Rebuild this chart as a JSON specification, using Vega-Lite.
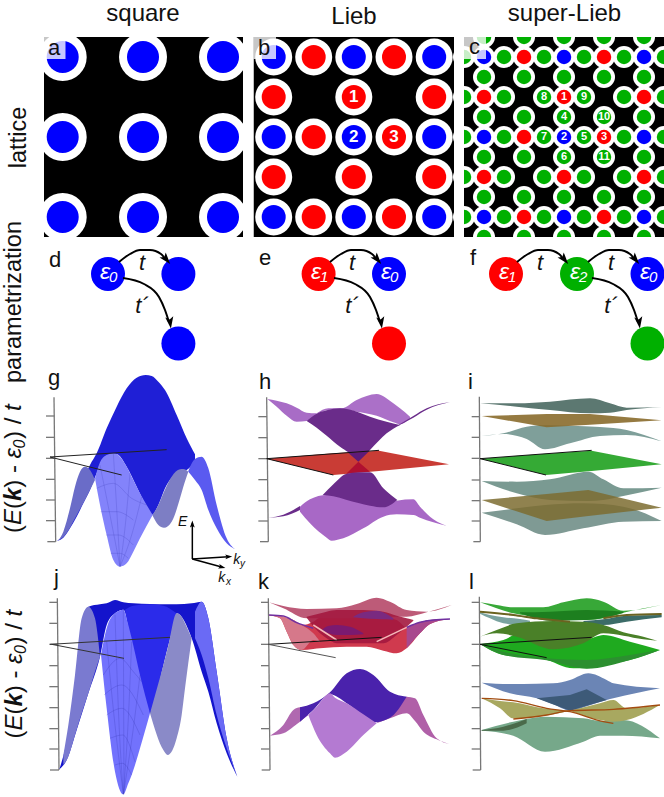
{"$schema":"https://vega.github.io/schema/vega-lite/v6.json","width":664,"height":797,"padding":0,"autosize":{"type":"none"},"background":"white","config":{"view":{"stroke":null},"text":{"font":"Liberation Sans"}},
"datasets":{
"a":[{"x":62.7,"y":57,"s":"e0"},{"x":143,"y":57,"s":"e0"},{"x":223,"y":57,"s":"e0"},{"x":62.7,"y":137,"s":"e0"},{"x":143,"y":137,"s":"e0"},{"x":223,"y":137,"s":"e0"},{"x":62.7,"y":217,"s":"e0"},{"x":143,"y":217,"s":"e0"},{"x":223,"y":217,"s":"e0"}],
"b":[{"x":273.7,"y":57,"s":"e0"},{"x":313.7,"y":57,"s":"e1"},{"x":353.8,"y":57,"s":"e0"},{"x":394,"y":57,"s":"e1"},{"x":434.2,"y":57,"s":"e0"},{"x":273.7,"y":97,"s":"e1"},{"x":353.8,"y":97,"s":"e1"},{"x":434.2,"y":97,"s":"e1"},{"x":273.7,"y":137,"s":"e0"},{"x":313.7,"y":137,"s":"e1"},{"x":353.8,"y":137,"s":"e0"},{"x":394,"y":137,"s":"e1"},{"x":434.2,"y":137,"s":"e0"},{"x":273.7,"y":177,"s":"e1"},{"x":353.8,"y":177,"s":"e1"},{"x":434.2,"y":177,"s":"e1"},{"x":273.7,"y":217,"s":"e0"},{"x":313.7,"y":217,"s":"e1"},{"x":353.8,"y":217,"s":"e0"},{"x":394,"y":217,"s":"e1"},{"x":434.2,"y":217,"s":"e0"}],
"c":[{"x":484,"y":37,"s":"e2"},{"x":524,"y":37,"s":"e2"},{"x":564,"y":37,"s":"e2"},{"x":604,"y":37,"s":"e2"},{"x":644,"y":37,"s":"e2"},
{"x":464,"y":57,"s":"e2"},{"x":484,"y":57,"s":"e0"},{"x":504,"y":57,"s":"e2"},{"x":524,"y":57,"s":"e1"},{"x":544,"y":57,"s":"e2"},{"x":564,"y":57,"s":"e0"},{"x":584,"y":57,"s":"e2"},{"x":604,"y":57,"s":"e1"},{"x":624,"y":57,"s":"e2"},{"x":644,"y":57,"s":"e0"},{"x":664,"y":57,"s":"e2"},
{"x":484,"y":77,"s":"e2"},{"x":524,"y":77,"s":"e2"},{"x":564,"y":77,"s":"e2"},{"x":604,"y":77,"s":"e2"},{"x":644,"y":77,"s":"e2"},
{"x":464,"y":97,"s":"e2"},{"x":484,"y":97,"s":"e1"},{"x":504,"y":97,"s":"e2"},{"x":544,"y":97,"s":"e2"},{"x":564,"y":97,"s":"e1"},{"x":584,"y":97,"s":"e2"},{"x":624,"y":97,"s":"e2"},{"x":644,"y":97,"s":"e1"},{"x":664,"y":97,"s":"e2"},
{"x":484,"y":117,"s":"e2"},{"x":524,"y":117,"s":"e2"},{"x":564,"y":117,"s":"e2"},{"x":604,"y":117,"s":"e2"},{"x":644,"y":117,"s":"e2"},
{"x":464,"y":137,"s":"e2"},{"x":484,"y":137,"s":"e0"},{"x":504,"y":137,"s":"e2"},{"x":524,"y":137,"s":"e1"},{"x":544,"y":137,"s":"e2"},{"x":564,"y":137,"s":"e0"},{"x":584,"y":137,"s":"e2"},{"x":604,"y":137,"s":"e1"},{"x":624,"y":137,"s":"e2"},{"x":644,"y":137,"s":"e0"},{"x":664,"y":137,"s":"e2"},
{"x":484,"y":157,"s":"e2"},{"x":524,"y":157,"s":"e2"},{"x":564,"y":157,"s":"e2"},{"x":604,"y":157,"s":"e2"},{"x":644,"y":157,"s":"e2"},
{"x":464,"y":177,"s":"e2"},{"x":484,"y":177,"s":"e1"},{"x":504,"y":177,"s":"e2"},{"x":544,"y":177,"s":"e2"},{"x":564,"y":177,"s":"e1"},{"x":584,"y":177,"s":"e2"},{"x":624,"y":177,"s":"e2"},{"x":644,"y":177,"s":"e1"},{"x":664,"y":177,"s":"e2"},
{"x":484,"y":197,"s":"e2"},{"x":524,"y":197,"s":"e2"},{"x":564,"y":197,"s":"e2"},{"x":604,"y":197,"s":"e2"},{"x":644,"y":197,"s":"e2"},
{"x":464,"y":217,"s":"e2"},{"x":484,"y":217,"s":"e0"},{"x":504,"y":217,"s":"e2"},{"x":524,"y":217,"s":"e1"},{"x":544,"y":217,"s":"e2"},{"x":564,"y":217,"s":"e0"},{"x":584,"y":217,"s":"e2"},{"x":604,"y":217,"s":"e1"},{"x":624,"y":217,"s":"e2"},{"x":644,"y":217,"s":"e0"},{"x":664,"y":217,"s":"e2"},
{"x":484,"y":237,"s":"e2"},{"x":524,"y":237,"s":"e2"},{"x":564,"y":237,"s":"e2"},{"x":604,"y":237,"s":"e2"},{"x":644,"y":237,"s":"e2"}],
"axisTop":[{"x":50,"y":97,"x2":55,"y2":530},{"x":25,"y":155,"x2":51,"y2":155},{"x":25,"y":218,"x2":52,"y2":218},{"x":25,"y":281,"x2":52,"y2":281},{"x":25,"y":344,"x2":53,"y2":344},{"x":25,"y":407,"x2":54,"y2":407},{"x":25,"y":468,"x2":54,"y2":468},{"x":30,"y":530,"x2":55,"y2":530},
{"x":688,"y":95,"x2":691,"y2":530},{"x":665,"y":155,"x2":689,"y2":155},{"x":665,"y":217,"x2":689,"y2":217},{"x":665,"y":280,"x2":689,"y2":280},{"x":665,"y":345,"x2":690,"y2":345},{"x":665,"y":407,"x2":690,"y2":407},{"x":665,"y":468,"x2":690,"y2":468},{"x":670,"y":530,"x2":691,"y2":530}],
"axisBot":[{"x":55,"y":70,"x2":60,"y2":585},{"x":33,"y":82,"x2":56,"y2":82},{"x":33,"y":145,"x2":56,"y2":145},{"x":33,"y":208,"x2":57,"y2":208},{"x":33,"y":272,"x2":57,"y2":272},{"x":33,"y":335,"x2":58,"y2":335},{"x":33,"y":398,"x2":58,"y2":398},{"x":33,"y":461,"x2":59,"y2":461},{"x":33,"y":522,"x2":59,"y2":522},{"x":35,"y":585,"x2":60,"y2":585},
{"x":688,"y":65,"x2":692,"y2":585},{"x":665,"y":82,"x2":689,"y2":82},{"x":665,"y":145,"x2":689,"y2":145},{"x":665,"y":208,"x2":690,"y2":208},{"x":665,"y":272,"x2":690,"y2":272},{"x":665,"y":335,"x2":690,"y2":335},{"x":665,"y":398,"x2":691,"y2":398},{"x":665,"y":461,"x2":691,"y2":461},{"x":665,"y":522,"x2":691,"y2":522},{"x":668,"y":585,"x2":692,"y2":585}]
},
"resolve":{"scale":{"x":"independent","y":"independent"}},
"layer":[
{"encoding":{"x":{"field":"x","type":"quantitative","axis":null,"scale":{"domain":[0,664],"range":[0,664]}},"y":{"field":"y","type":"quantitative","axis":null,"scale":{"domain":[0,797],"range":[0,797]}}},
"layer":[
{"data":{"values":[{"x":44,"x2":243,"y":37,"y2":237},{"x":253.5,"x2":454,"y":37,"y2":237},{"x":464,"x2":664,"y":37,"y2":237}]},"mark":{"type":"rect","color":"black"},"encoding":{"x2":{"field":"x2"},"y2":{"field":"y2"}}},
{"data":{"name":"a"},"mark":{"type":"point","filled":true,"shape":"circle","color":"white","opacity":1,"size":2304}},
{"data":{"name":"a"},"mark":{"type":"point","filled":true,"shape":"circle","opacity":1,"size":1024},"encoding":{"color":{"field":"s","type":"nominal","legend":null,"scale":{"domain":["e0","e1","e2"],"range":["#0000ff","#ff0000","#00b000"]}}}},
{"data":{"name":"b"},"mark":{"type":"point","filled":true,"shape":"circle","color":"white","opacity":1,"size":1369}},
{"data":{"name":"b"},"mark":{"type":"point","filled":true,"shape":"circle","opacity":1,"size":576},"encoding":{"color":{"field":"s","type":"nominal","legend":null,"scale":{"domain":["e0","e1","e2"],"range":["#0000ff","#ff0000","#00b000"]}}}},
{"data":{"name":"c"},"mark":{"type":"point","filled":true,"shape":"circle","color":"white","opacity":1,"size":484}},
{"data":{"name":"c"},"mark":{"type":"point","filled":true,"shape":"circle","opacity":1,"size":210},"encoding":{"color":{"field":"s","type":"nominal","legend":null,"scale":{"domain":["e0","e1","e2"],"range":["#0000ff","#ff0000","#00b000"]}}}},
{"data":{"values":[{"x":30,"x2":664,"y":25,"y2":37},{"x":30,"x2":664,"y":237,"y2":250},{"x":30,"x2":44,"y":25,"y2":250},{"x":243,"x2":253.5,"y":25,"y2":250},{"x":454,"x2":464,"y":25,"y2":250}]},"mark":{"type":"rect","color":"white"},"encoding":{"x2":{"field":"x2"},"y2":{"field":"y2"}}},
{"data":{"values":[{"x":44,"x2":65.5,"y":37,"y2":59},{"x":253.5,"x2":276,"y":37,"y2":59},{"x":464,"x2":486,"y":37,"y2":59}]},"mark":{"type":"rect","color":"white","opacity":0.78},"encoding":{"x2":{"field":"x2"},"y2":{"field":"y2"}}},
{"data":{"values":[{"x":108,"y":274,"s":"e0"},{"x":178.4,"y":274,"s":"e0"},{"x":178.4,"y":343.5,"s":"e0"},{"x":318.6,"y":274,"s":"e1"},{"x":389,"y":274,"s":"e0"},{"x":389,"y":343.5,"s":"e1"},{"x":506,"y":274,"s":"e1"},{"x":577,"y":274,"s":"e2"},{"x":647.5,"y":274,"s":"e0"},{"x":647.5,"y":343.5,"s":"e2"}]},"mark":{"type":"point","filled":true,"shape":"circle","opacity":1,"size":1156},"encoding":{"color":{"field":"s","type":"nominal","legend":null,"scale":{"domain":["e0","e1","e2"],"range":["#0000ff","#ff0000","#00b000"]}}}},
{"data":{"values":[
{"id":"d1","x":119,"y":262},{"id":"d1","x":130,"y":254},{"id":"d1","x":140,"y":250},{"id":"d1","x":150,"y":250},{"id":"d1","x":161,"y":254},{"id":"d1","x":166,"y":260},
{"id":"d2","x":123,"y":278},{"id":"d2","x":144,"y":284},{"id":"d2","x":159,"y":297},{"id":"d2","x":165,"y":310},{"id":"d2","x":169,"y":322},
{"id":"e1","x":330,"y":262},{"id":"e1","x":341,"y":254},{"id":"e1","x":351,"y":250},{"id":"e1","x":361,"y":250},{"id":"e1","x":372,"y":254},{"id":"e1","x":377,"y":260},
{"id":"e2","x":334,"y":278},{"id":"e2","x":355,"y":284},{"id":"e2","x":370,"y":297},{"id":"e2","x":376,"y":310},{"id":"e2","x":380,"y":322},
{"id":"f1","x":517,"y":262},{"id":"f1","x":528,"y":254},{"id":"f1","x":538,"y":250},{"id":"f1","x":548,"y":250},{"id":"f1","x":559,"y":254},{"id":"f1","x":564,"y":260},
{"id":"f2","x":588,"y":262},{"id":"f2","x":599,"y":254},{"id":"f2","x":609,"y":250},{"id":"f2","x":619,"y":250},{"id":"f2","x":630,"y":254},{"id":"f2","x":635,"y":260},
{"id":"f3","x":592,"y":278},{"id":"f3","x":613,"y":284},{"id":"f3","x":628,"y":297},{"id":"f3","x":634,"y":310},{"id":"f3","x":638,"y":322}]},"mark":{"type":"line","color":"black","strokeWidth":2,"interpolate":"monotone"},"encoding":{"detail":{"field":"id"}}},
{"data":{"values":[{"x":166,"y":259,"a":140},{"x":170,"y":322,"a":172},{"x":377,"y":259,"a":140},{"x":381,"y":322,"a":172},{"x":564,"y":259,"a":140},{"x":635,"y":259,"a":140},{"x":639,"y":322,"a":172}]},"mark":{"type":"point","filled":true,"color":"black","opacity":1,"shape":"M0,-1L0.62,0.8L0,0.4L-0.62,0.8Z","size":170},"encoding":{"angle":{"field":"a","type":"quantitative","scale":null}}},
{"data":{"values":[{"x":143,"y":21,"t":"square"},{"x":354,"y":24,"t":"Lieb"},{"x":564.5,"y":21,"t":"super-Lieb"}]},"mark":{"type":"text","fontSize":24,"align":"center","baseline":"alphabetic","color":"#111"},"encoding":{"text":{"field":"t"}}},
{"data":{"values":[{"x":26,"y":137.5,"t":"lattice"},{"x":21,"y":302,"t":"parametrization"}]},"mark":{"type":"text","fontSize":23.5,"angle":270,"align":"center","baseline":"alphabetic","color":"#111"},"encoding":{"text":{"field":"t"}}},
{"data":{"values":[{"x":48,"y":55,"t":"a"},{"x":258,"y":55,"t":"b"},{"x":469,"y":54,"t":"c"},{"x":49,"y":267,"t":"d"},{"x":259,"y":265,"t":"e"},{"x":470,"y":265,"t":"f"},{"x":48,"y":385,"t":"g"},{"x":259,"y":389,"t":"h"},{"x":468,"y":389,"t":"i"},{"x":54,"y":585,"t":"j"},{"x":258,"y":589,"t":"k"},{"x":469,"y":589,"t":"l"}]},"mark":{"type":"text","fontSize":22,"align":"left","baseline":"alphabetic","color":"#111"},"encoding":{"text":{"field":"t"}}},
{"data":{"values":[{"x":353.8,"y":97,"t":"1"},{"x":353.8,"y":137,"t":"2"},{"x":394,"y":137,"t":"3"}]},"mark":{"type":"text","fontSize":17,"fontWeight":"bold","align":"center","baseline":"middle","color":"white"},"encoding":{"text":{"field":"t"}}},
{"data":{"values":[{"x":544,"y":97,"t":"8"},{"x":564,"y":97,"t":"1"},{"x":584,"y":97,"t":"9"},{"x":564,"y":117,"t":"4"},{"x":604,"y":117,"t":"10"},{"x":544,"y":137,"t":"7"},{"x":564,"y":137,"t":"2"},{"x":584,"y":137,"t":"5"},{"x":604,"y":137,"t":"3"},{"x":564,"y":157,"t":"6"},{"x":604,"y":157,"t":"11"}]},"mark":{"type":"text","fontSize":11,"fontWeight":"bold","align":"center","baseline":"middle","color":"white"},"encoding":{"text":{"field":"t"}}},
{"data":{"values":[{"x":100,"y":279,"t":"ε"},{"x":311,"y":279,"t":"ε"},{"x":381,"y":279,"t":"ε"},{"x":499,"y":279,"t":"ε"},{"x":570,"y":279,"t":"ε"},{"x":640,"y":279,"t":"ε"}]},"mark":{"type":"text","fontSize":23,"fontStyle":"italic","align":"left","baseline":"alphabetic","color":"white"},"encoding":{"text":{"field":"t"}}},
{"data":{"values":[{"x":109,"y":282,"t":"0"},{"x":320,"y":282,"t":"1"},{"x":390,"y":282,"t":"0"},{"x":508,"y":282,"t":"1"},{"x":579,"y":282,"t":"2"},{"x":649,"y":282,"t":"0"}]},"mark":{"type":"text","fontSize":15,"fontStyle":"italic","align":"left","baseline":"alphabetic","color":"white"},"encoding":{"text":{"field":"t"}}},
{"data":{"values":[{"x":142,"y":270,"t":"t"},{"x":352,"y":270,"t":"t"},{"x":540,"y":270,"t":"t"},{"x":611,"y":270,"t":"t"},{"x":142,"y":313,"t":"t´"},{"x":352,"y":313,"t":"t´"},{"x":611,"y":313,"t":"t´"}]},"mark":{"type":"text","fontSize":22,"fontStyle":"italic","align":"center","baseline":"alphabetic","color":"#111"},"encoding":{"text":{"field":"t"}}},
{"data":{"values":[{"x":21,"y":533,"t":"("},{"x":21,"y":509,"t":"("},{"x":21,"y":487.7,"t":") - "},{"x":21,"y":438.9,"t":") / "},{"x":21.5,"y":738.5,"t":"("},{"x":21.5,"y":714.5,"t":"("},{"x":21.5,"y":693.2,"t":") - "},{"x":21.5,"y":644.4,"t":") / "}]},"mark":{"type":"text","fontSize":24,"angle":270,"align":"left","baseline":"alphabetic","color":"#111"},"encoding":{"text":{"field":"t"}}},
{"data":{"values":[{"x":21,"y":525,"t":"E"},{"x":21,"y":458.4,"t":"ε"},{"x":21,"y":410.9,"t":"t"},{"x":21.5,"y":730.5,"t":"E"},{"x":21.5,"y":663.9,"t":"ε"},{"x":21.5,"y":616.4,"t":"t"}]},"mark":{"type":"text","fontSize":24,"fontStyle":"italic","angle":270,"align":"left","baseline":"alphabetic","color":"#111"},"encoding":{"text":{"field":"t"}}},
{"data":{"values":[{"x":21,"y":501,"t":"k"},{"x":21.5,"y":706.5,"t":"k"}]},"mark":{"type":"text","fontSize":24,"fontStyle":"italic","fontWeight":"bold","angle":270,"align":"left","baseline":"alphabetic","color":"#111"},"encoding":{"text":{"field":"t"}}},
{"data":{"values":[{"x":25,"y":448.4,"t":"0"},{"x":25.5,"y":653.9,"t":"0"}]},"mark":{"type":"text","fontSize":16,"fontStyle":"italic","angle":270,"align":"left","baseline":"alphabetic","color":"#111"},"encoding":{"text":{"field":"t"}}}
]},
{"encoding":{"x":{"field":"x","type":"quantitative","axis":null,"scale":{"domain":[0,1992],"range":[0,664]}},"y":{"field":"y","type":"quantitative","axis":null,"scale":{"domain":[-1095,1296],"range":[0,797]}}},
"layer":[
{"data":{"values":[{"x":162,"y":97,"x2":167,"y2":530},{"x":138,"y":153,"x2":163,"y2":153},{"x":138,"y":217,"x2":164,"y2":217},{"x":138,"y":280,"x2":164,"y2":280},{"x":138,"y":343,"x2":165,"y2":343},{"x":138,"y":405,"x2":166,"y2":405},{"x":138,"y":467,"x2":166,"y2":467},{"x":142,"y":530,"x2":167,"y2":530}]},"mark":{"type":"rule","color":"#777","strokeWidth":1.3},"encoding":{"x2":{"field":"x2"},"y2":{"field":"y2"}}},
{"data":{"values":[{"x":170,"y":528,"y2":528},{"x":190,"y":510,"y2":518},{"x":210,"y":470,"y2":490},{"x":230,"y":410,"y2":455},{"x":250,"y":345,"y2":415},{"x":270,"y":300,"y2":375},{"x":290,"y":265,"y2":325},{"x":320,"y":190,"y2":272},{"x":350,"y":125,"y2":268},{"x":380,"y":70,"y2":305},{"x":410,"y":38,"y2":365},{"x":437,"y":30,"y2":420},{"x":455,"y":33,"y2":450},{"x":475,"y":50,"y2":420},{"x":495,"y":75,"y2":370},{"x":530,"y":150,"y2":325},{"x":560,"y":220,"y2":315},{"x":585,"y":268,"y2":290}]},"mark":{"type":"area","orient":"vertical","color":"#1f1fd6","interpolate":"monotone"},"encoding":{"y2":{"field":"y2"}}},
{"data":{"values":[{"x":175,"y":526,"y2":526},{"x":190,"y":500,"y2":516},{"x":210,"y":430,"y2":488},{"x":225,"y":365,"y2":460},{"x":240,"y":320,"y2":432},{"x":255,"y":305,"y2":405},{"x":270,"y":315,"y2":375},{"x":285,"y":345,"y2":345}]},"mark":{"type":"area","orient":"vertical","color":"#6a6cc8","interpolate":"monotone"},"encoding":{"y2":{"field":"y2"}}},
{"data":{"values":[{"x":457,"y":450,"y2":450},{"x":475,"y":420,"y2":480},{"x":492,"y":380,"y2":488},{"x":515,"y":335,"y2":470},{"x":540,"y":313,"y2":400},{"x":550,"y":312,"y2":365},{"x":565,"y":320,"y2":320}]},"mark":{"type":"area","orient":"vertical","color":"#7d7ec4","interpolate":"monotone"},"encoding":{"y2":{"field":"y2"}}},
{"data":{"values":[{"x":565,"y":318,"y2":320},{"x":585,"y":282,"y2":345},{"x":605,"y":275,"y2":375},{"x":625,"y":310,"y2":435},{"x":650,"y":420,"y2":490},{"x":680,"y":520,"y2":535},{"x":705,"y":553,"y2":553}]},"mark":{"type":"area","orient":"vertical","color":"#5a5af0","interpolate":"monotone"},"encoding":{"y2":{"field":"y2"}}},
{"data":{"values":[{"x":285,"y":340,"y2":340},{"x":300,"y":292,"y2":420},{"x":320,"y":270,"y2":510},{"x":340,"y":265,"y2":585},{"x":360,"y":275,"y2":605},{"x":380,"y":305,"y2":595},{"x":400,"y":345,"y2":560},{"x":420,"y":385,"y2":520},{"x":440,"y":420,"y2":482},{"x":458,"y":450,"y2":450}]},"mark":{"type":"area","orient":"vertical","color":"#8383fb","interpolate":"monotone"},"encoding":{"y2":{"field":"y2"}}},
{"data":{"values":[{"id":"m1","x":300,"y":300},{"id":"m1","x":330,"y":450},{"id":"m1","x":360,"y":605},{"id":"m2","x":340,"y":265},{"id":"m2","x":350,"y":430},{"id":"m2","x":360,"y":605},{"id":"m3","x":390,"y":325},{"id":"m3","x":378,"y":460},{"id":"m3","x":360,"y":605},{"id":"m4","x":425,"y":395},{"id":"m4","x":395,"y":510},{"id":"m4","x":360,"y":605},{"id":"m5","x":290,"y":370},{"id":"m5","x":340,"y":355},{"id":"m5","x":395,"y":400},{"id":"m5","x":440,"y":420},{"id":"m6","x":302,"y":440},{"id":"m6","x":350,"y":440},{"id":"m6","x":400,"y":465},{"id":"m7","x":318,"y":510},{"id":"m7","x":355,"y":510},{"id":"m7","x":400,"y":540},{"id":"m8","x":332,"y":565},{"id":"m8","x":360,"y":565},{"id":"m8","x":385,"y":580}]},"mark":{"type":"line","color":"#3030b0","strokeWidth":0.5,"opacity":0.4,"interpolate":"monotone"},"encoding":{"detail":{"field":"id"}}},
{"data":{"values":[{"x":150,"y":276,"x2":500,"y2":254},{"x":150,"y":276,"x2":365,"y2":330}]},"mark":{"type":"rule","color":"#222","strokeWidth":1},"encoding":{"x2":{"field":"x2"},"y2":{"field":"y2"}}},
{"data":{"values":[{"x":577,"y":582,"x2":577,"y2":475},{"x":577,"y":582,"x2":685,"y2":575},{"x":577,"y":582,"x2":665,"y2":606}]},"mark":{"type":"rule","color":"black","strokeWidth":1.5},"encoding":{"x2":{"field":"x2"},"y2":{"field":"y2"}}},
{"data":{"values":[{"x":577,"y":478,"a":0},{"x":685,"y":575,"a":87},{"x":665,"y":606,"a":105}]},"mark":{"type":"point","filled":true,"color":"black","opacity":1,"shape":"M0,-1L0.62,0.8L0,0.4L-0.62,0.8Z","size":60},"encoding":{"angle":{"field":"a","type":"quantitative","scale":null}}},
{"data":{"values":[{"x":534,"y":482,"t":"E"},{"x":700,"y":597,"t":"k"},{"x":655,"y":651,"t":"k"}]},"mark":{"type":"text","fontSize":14,"fontStyle":"italic","align":"left","baseline":"alphabetic","color":"#111"},"encoding":{"text":{"field":"t"}}},
{"data":{"values":[{"x":720,"y":607,"t":"y"},{"x":678,"y":660,"t":"x"}]},"mark":{"type":"text","fontSize":10,"fontStyle":"italic","align":"left","baseline":"alphabetic","color":"#111"},"encoding":{"text":{"field":"t"}}}
]},
{"encoding":{"x":{"field":"x","type":"quantitative","axis":null,"scale":{"domain":[-750,1242],"range":[0,664]}},"y":{"field":"y","type":"quantitative","axis":null,"scale":{"domain":[-1095,1296],"range":[0,797]}}},
"layer":[
{"data":{"name":"axisTop"},"mark":{"type":"rule","color":"#777","strokeWidth":1.3},"encoding":{"x2":{"field":"x2"},"y2":{"field":"y2"}}},
{"data":{"values":[{"x":52,"y":102,"y2":102},{"x":80,"y":107,"y2":125},{"x":110,"y":115,"y2":152},{"x":140,"y":128,"y2":170},{"x":170,"y":143,"y2":168},{"x":200,"y":145,"y2":150}]},"mark":{"type":"area","orient":"vertical","color":"#a86cc6","interpolate":"monotone"},"encoding":{"y2":{"field":"y2"}}},
{"data":{"values":[{"x":200,"y":145,"y2":147},{"x":235,"y":130,"y2":135},{"x":275,"y":130,"y2":133},{"x":320,"y":105,"y2":140},{"x":380,"y":87,"y2":152},{"x":430,"y":115,"y2":172},{"x":450,"y":130,"y2":178},{"x":480,"y":155,"y2":160}]},"mark":{"type":"area","orient":"vertical","color":"#ab70c8","interpolate":"monotone"},"encoding":{"y2":{"field":"y2"}}},
{"data":{"values":[{"x":170,"y":168,"y2":168},{"x":200,"y":146,"y2":188},{"x":230,"y":136,"y2":212},{"x":270,"y":130,"y2":245},{"x":295,"y":133,"y2":262},{"x":325,"y":142,"y2":290},{"x":360,"y":155,"y2":255},{"x":410,"y":170,"y2":205},{"x":450,"y":180,"y2":180}]},"mark":{"type":"area","orient":"vertical","color":"#6a2c8a","interpolate":"monotone"},"encoding":{"y2":{"field":"y2"}}},
{"data":{"values":[{"x":445,"y":180,"y2":182},{"x":490,"y":153,"y2":158},{"x":530,"y":130,"y2":134},{"x":565,"y":118,"y2":120},{"x":600,"y":112,"y2":112}]},"mark":{"type":"area","orient":"vertical","color":"#6a2c8a","interpolate":"monotone"},"encoding":{"y2":{"field":"y2"}}},
{"data":{"values":[{"x":50,"y":281,"y2":281},{"x":250,"y":265,"y2":330},{"x":387,"y":257,"y2":318},{"x":597,"y":298,"y2":298}]},"mark":{"type":"area","orient":"vertical","color":"#c93c35"},"encoding":{"y2":{"field":"y2"}}},
{"data":{"values":[{"x":293,"y":262,"y2":262},{"x":325,"y":262,"y2":290},{"x":358,"y":258,"y2":258}]},"mark":{"type":"area","orient":"vertical","color":"#5e1a78"},"encoding":{"y2":{"field":"y2"}}},
{"data":{"values":[{"x":288,"y":327,"y2":327},{"x":325,"y":290,"y2":322},{"x":360,"y":320,"y2":320}]},"mark":{"type":"area","orient":"vertical","color":"#b01030"},"encoding":{"y2":{"field":"y2"}}},
{"data":{"values":[{"x":55,"y":458,"y2":458},{"x":100,"y":449,"y2":454},{"x":150,"y":423,"y2":435}]},"mark":{"type":"area","orient":"vertical","color":"#6a2c8a","interpolate":"monotone"},"encoding":{"y2":{"field":"y2"}}},
{"data":{"values":[{"x":150,"y":425,"y2":440},{"x":180,"y":403,"y2":475},{"x":230,"y":390,"y2":518},{"x":245,"y":390,"y2":527},{"x":280,"y":398,"y2":520},{"x":340,"y":415,"y2":490},{"x":400,"y":425,"y2":455},{"x":440,"y":407,"y2":448},{"x":490,"y":403,"y2":450},{"x":510,"y":425,"y2":458},{"x":550,"y":463,"y2":472},{"x":592,"y":483,"y2":483}]},"mark":{"type":"area","orient":"vertical","color":"#a868c6","interpolate":"monotone"},"encoding":{"y2":{"field":"y2"}}},
{"data":{"values":[{"x":218,"y":390,"y2":390},{"x":250,"y":358,"y2":394},{"x":288,"y":327,"y2":404},{"x":325,"y":322,"y2":414},{"x":360,"y":322,"y2":422},{"x":400,"y":370,"y2":427},{"x":442,"y":405,"y2":405}]},"mark":{"type":"area","orient":"vertical","color":"#6a2c8a","interpolate":"monotone"},"encoding":{"y2":{"field":"y2"}}},
{"data":{"values":[{"x":50,"y":281,"x2":387,"y2":256},{"x":50,"y":281,"x2":250,"y2":330}]},"mark":{"type":"rule","color":"#111","strokeWidth":1},"encoding":{"x2":{"field":"x2"},"y2":{"field":"y2"}}},
{"data":{"values":[{"x":690,"y":115,"y2":115},{"x":800,"y":115,"y2":125},{"x":900,"y":110,"y2":135},{"x":1020,"y":100,"y2":145},{"x":1080,"y":115,"y2":143},{"x":1130,"y":128,"y2":135},{"x":1235,"y":126,"y2":126}]},"mark":{"type":"area","orient":"vertical","color":"#5c7871","interpolate":"monotone"},"encoding":{"y2":{"field":"y2"}}},
{"data":{"values":[{"x":695,"y":213,"y2":213},{"x":760,"y":205,"y2":207},{"x":830,"y":185,"y2":222},{"x":885,"y":180,"y2":253},{"x":960,"y":182,"y2":235},{"x":1050,"y":186,"y2":213},{"x":1130,"y":195,"y2":210},{"x":1235,"y":229,"y2":229}]},"mark":{"type":"area","orient":"vertical","color":"#7f9f9a","interpolate":"monotone"},"encoding":{"y2":{"field":"y2"}}},
{"data":{"values":[{"x":695,"y":153,"y2":153},{"x":890,"y":147,"y2":187},{"x":1020,"y":147,"y2":179},{"x":1235,"y":166,"y2":166}]},"mark":{"type":"area","orient":"vertical","color":"#8a6c2c","opacity":0.9},"encoding":{"y2":{"field":"y2"}}},
{"data":{"values":[{"x":690,"y":281,"y2":281},{"x":888,"y":266,"y2":330},{"x":1025,"y":257,"y2":318},{"x":1235,"y":298,"y2":298}]},"mark":{"type":"area","orient":"vertical","color":"#35aa35"},"encoding":{"y2":{"field":"y2"}}},
{"data":{"values":[{"x":695,"y":348,"y2":348},{"x":800,"y":350,"y2":385},{"x":900,"y":343,"y2":405},{"x":1015,"y":320,"y2":408},{"x":1060,"y":343,"y2":405},{"x":1120,"y":370,"y2":393},{"x":1235,"y":368,"y2":368}]},"mark":{"type":"area","orient":"vertical","color":"#7a9a92","interpolate":"monotone"},"encoding":{"y2":{"field":"y2"}}},
{"data":{"values":[{"x":695,"y":443,"y2":443},{"x":800,"y":430,"y2":478},{"x":885,"y":420,"y2":510},{"x":1000,"y":415,"y2":490},{"x":1120,"y":425,"y2":470},{"x":1235,"y":468,"y2":468}]},"mark":{"type":"area","orient":"vertical","color":"#7f9a94","interpolate":"monotone"},"encoding":{"y2":{"field":"y2"}}},
{"data":{"values":[{"x":695,"y":405,"y2":405},{"x":890,"y":387,"y2":468},{"x":1015,"y":375,"y2":453},{"x":1235,"y":428,"y2":428}]},"mark":{"type":"area","orient":"vertical","color":"#7c6c30","opacity":0.85},"encoding":{"y2":{"field":"y2"}}},
{"data":{"values":[{"x":690,"y":281,"x2":1025,"y2":256},{"x":690,"y":281,"x2":888,"y2":330}]},"mark":{"type":"rule","color":"#111","strokeWidth":1},"encoding":{"x2":{"field":"x2"},"y2":{"field":"y2"}}}
]},
{"encoding":{"x":{"field":"x","type":"quantitative","axis":null,"scale":{"domain":[0,1992],"range":[0,664]}},"y":{"field":"y","type":"quantitative","axis":null,"scale":{"domain":[-1725,666],"range":[0,797]}}},
"layer":[
{"data":{"values":[{"x":172,"y":70,"x2":177,"y2":585},{"x":148,"y":82,"x2":173,"y2":82},{"x":148,"y":145,"x2":173,"y2":145},{"x":148,"y":208,"x2":174,"y2":208},{"x":148,"y":272,"x2":174,"y2":272},{"x":148,"y":335,"x2":175,"y2":335},{"x":148,"y":398,"x2":175,"y2":398},{"x":148,"y":461,"x2":176,"y2":461},{"x":148,"y":522,"x2":176,"y2":522},{"x":150,"y":585,"x2":177,"y2":585}]},"mark":{"type":"rule","color":"#777","strokeWidth":1.3},"encoding":{"x2":{"field":"x2"},"y2":{"field":"y2"}}},
{"data":{"values":[{"x":178,"y":583,"y2":583},{"x":200,"y":500,"y2":555},{"x":230,"y":300,"y2":465},{"x":265,"y":95,"y2":355},{"x":300,"y":88,"y2":245},{"x":320,"y":85,"y2":150},{"x":345,"y":75,"y2":115},{"x":370,"y":82,"y2":104},{"x":400,"y":85,"y2":235},{"x":450,"y":87,"y2":415},{"x":490,"y":88,"y2":270},{"x":530,"y":88,"y2":115},{"x":575,"y":85,"y2":190},{"x":605,"y":80,"y2":290},{"x":625,"y":130,"y2":350},{"x":650,"y":290,"y2":445},{"x":680,"y":490,"y2":535},{"x":712,"y":605,"y2":605}]},"mark":{"type":"area","orient":"vertical","color":"#1414cc","interpolate":"monotone"},"encoding":{"y2":{"field":"y2"}}},
{"data":{"values":[{"x":375,"y":104,"y2":104},{"x":400,"y":92,"y2":230},{"x":450,"y":88,"y2":410},{"x":490,"y":92,"y2":268},{"x":530,"y":115,"y2":115}]},"mark":{"type":"area","orient":"vertical","color":"#2b2bea","interpolate":"monotone"},"encoding":{"y2":{"field":"y2"}}},
{"data":{"values":[{"x":190,"y":540,"y2":570},{"x":205,"y":450,"y2":545},{"x":225,"y":300,"y2":480},{"x":245,"y":130,"y2":415},{"x":265,"y":95,"y2":355},{"x":285,"y":130,"y2":290},{"x":300,"y":245,"y2":245}]},"mark":{"type":"area","orient":"vertical","color":"#7a7ad0","interpolate":"monotone"},"encoding":{"y2":{"field":"y2"}}},
{"data":{"values":[{"x":450,"y":415,"y2":415},{"x":490,"y":270,"y2":525},{"x":503,"y":220,"y2":540},{"x":530,"y":115,"y2":490},{"x":545,"y":125,"y2":420},{"x":555,"y":145,"y2":340},{"x":575,"y":190,"y2":190}]},"mark":{"type":"area","orient":"vertical","color":"#8a8ac8","interpolate":"monotone"},"encoding":{"y2":{"field":"y2"}}},
{"data":{"values":[{"x":585,"y":110,"y2":190},{"x":605,"y":80,"y2":240},{"x":625,"y":130,"y2":310},{"x":650,"y":290,"y2":420},{"x":680,"y":490,"y2":520},{"x":712,"y":605,"y2":605}]},"mark":{"type":"area","orient":"vertical","color":"#6a6af5","interpolate":"monotone"},"encoding":{"y2":{"field":"y2"}}},
{"data":{"values":[{"x":303,"y":240,"y2":240},{"x":320,"y":160,"y2":400},{"x":345,"y":115,"y2":590},{"x":370,"y":104,"y2":658},{"x":385,"y":150,"y2":625},{"x":395,"y":190,"y2":600},{"x":420,"y":300,"y2":520},{"x":450,"y":415,"y2":415}]},"mark":{"type":"area","orient":"vertical","color":"#7272fd","interpolate":"monotone"},"encoding":{"y2":{"field":"y2"}}},
{"data":{"values":[{"id":"m1","x":320,"y":200},{"id":"m1","x":345,"y":450},{"id":"m1","x":370,"y":658},{"id":"m2","x":345,"y":120},{"id":"m2","x":355,"y":400},{"id":"m2","x":370,"y":658},{"id":"m3","x":370,"y":104},{"id":"m3","x":371,"y":400},{"id":"m3","x":372,"y":658},{"id":"m4","x":395,"y":200},{"id":"m4","x":385,"y":430},{"id":"m4","x":370,"y":658},{"id":"m5","x":420,"y":300},{"id":"m5","x":400,"y":460},{"id":"m5","x":370,"y":658},{"id":"m6","x":310,"y":300},{"id":"m6","x":360,"y":250},{"id":"m6","x":400,"y":290},{"id":"m6","x":425,"y":320},{"id":"m7","x":312,"y":360},{"id":"m7","x":365,"y":330},{"id":"m7","x":430,"y":420},{"id":"m8","x":320,"y":420},{"id":"m8","x":365,"y":400},{"id":"m8","x":420,"y":480},{"id":"m9","x":330,"y":490},{"id":"m9","x":368,"y":480},{"id":"m9","x":405,"y":560},{"id":"m10","x":345,"y":570},{"id":"m10","x":368,"y":565},{"id":"m10","x":395,"y":600}]},"mark":{"type":"line","color":"#2828a0","strokeWidth":0.5,"opacity":0.4,"interpolate":"monotone"},"encoding":{"detail":{"field":"id"}}},
{"data":{"values":[{"x":150,"y":208,"x2":510,"y2":187},{"x":155,"y":208,"x2":372,"y2":250}]},"mark":{"type":"rule","color":"#333","strokeWidth":1},"encoding":{"x2":{"field":"x2"},"y2":{"field":"y2"}}}
]},
{"encoding":{"x":{"field":"x","type":"quantitative","axis":null,"scale":{"domain":[-750,1242],"range":[0,664]}},"y":{"field":"y","type":"quantitative","axis":null,"scale":{"domain":[-1725,666],"range":[0,797]}}},
"layer":[
{"data":{"name":"axisBot"},"mark":{"type":"rule","color":"#777","strokeWidth":1.3},"encoding":{"x2":{"field":"x2"},"y2":{"field":"y2"}}},
{"data":{"values":[{"x":57,"y":120,"y2":121},{"x":90,"y":123,"y2":130},{"x":110,"y":128,"y2":170},{"x":130,"y":135,"y2":210},{"x":155,"y":150,"y2":225},{"x":190,"y":140,"y2":222},{"x":210,"y":128,"y2":220},{"x":290,"y":128,"y2":215},{"x":350,"y":128,"y2":215},{"x":400,"y":128,"y2":227},{"x":440,"y":135,"y2":235},{"x":470,"y":157,"y2":220},{"x":510,"y":142,"y2":175},{"x":540,"y":135,"y2":147},{"x":600,"y":132,"y2":132}]},"mark":{"type":"area","orient":"vertical","color":"#d03a4e","interpolate":"monotone"},"encoding":{"y2":{"field":"y2"}}},
{"data":{"values":[{"x":57,"y":82,"y2":82},{"x":100,"y":93,"y2":100},{"x":170,"y":102,"y2":130},{"x":260,"y":100,"y2":130},{"x":320,"y":87,"y2":130},{"x":380,"y":68,"y2":130},{"x":420,"y":80,"y2":125},{"x":470,"y":105,"y2":125},{"x":530,"y":110,"y2":112},{"x":605,"y":90,"y2":90}]},"mark":{"type":"area","orient":"vertical","color":"#bd5b78","interpolate":"monotone"},"encoding":{"y2":{"field":"y2"}}},
{"data":{"values":[{"x":57,"y":120,"y2":121},{"x":90,"y":123,"y2":130},{"x":110,"y":128,"y2":170},{"x":130,"y":135,"y2":210},{"x":155,"y":150,"y2":225},{"x":190,"y":175,"y2":195},{"x":210,"y":200,"y2":202}]},"mark":{"type":"area","orient":"vertical","color":"#d6788a","interpolate":"monotone"},"encoding":{"y2":{"field":"y2"}}},
{"data":{"values":[{"x":470,"y":157,"y2":220},{"x":510,"y":142,"y2":175},{"x":540,"y":135,"y2":147},{"x":600,"y":132,"y2":132}]},"mark":{"type":"area","orient":"vertical","color":"#a8488e","interpolate":"monotone"},"encoding":{"y2":{"field":"y2"}}},
{"data":{"values":[{"x":170,"y":125,"y2":128},{"x":200,"y":118,"y2":165},{"x":230,"y":110,"y2":190},{"x":260,"y":105,"y2":205},{"x":340,"y":105,"y2":205},{"x":400,"y":110,"y2":205},{"x":440,"y":122,"y2":180},{"x":470,"y":130,"y2":155},{"x":490,"y":135,"y2":137}]},"mark":{"type":"area","orient":"vertical","color":"#a3183f","opacity":0.9,"interpolate":"monotone"},"encoding":{"y2":{"field":"y2"}}},
{"data":{"values":[{"x":215,"y":165,"y2":167},{"x":235,"y":153,"y2":175},{"x":260,"y":150,"y2":180},{"x":300,"y":155,"y2":180},{"x":340,"y":175,"y2":178}]},"mark":{"type":"area","orient":"vertical","color":"#7a1a70","interpolate":"monotone"},"encoding":{"y2":{"field":"y2"}}},
{"data":{"values":[{"x":310,"y":125,"y2":127},{"x":340,"y":112,"y2":130},{"x":380,"y":107,"y2":132},{"x":410,"y":117,"y2":133},{"x":430,"y":130,"y2":134}]},"mark":{"type":"area","orient":"vertical","color":"#7a2a80","interpolate":"monotone"},"encoding":{"y2":{"field":"y2"}}},
{"data":{"values":[{"id":"p1","x":57,"y":120},{"id":"p1","x":100,"y":123},{"id":"p1","x":140,"y":143},{"id":"p1","x":190,"y":160},{"id":"p2","x":470,"y":157},{"id":"p2","x":510,"y":142},{"id":"p2","x":550,"y":135},{"id":"p2","x":600,"y":132}]},"mark":{"type":"line","color":"#7030a0","strokeWidth":1.5,"interpolate":"monotone"},"encoding":{"detail":{"field":"id"}}},
{"data":{"values":[{"x":190,"y":150,"x2":260,"y2":195},{"x":380,"y":200,"x2":470,"y2":157}]},"mark":{"type":"rule","color":"#f5b8b8","strokeWidth":1.5},"encoding":{"x2":{"field":"x2"},"y2":{"field":"y2"}}},
{"data":{"values":[{"x":60,"y":482,"y2":482},{"x":100,"y":450,"y2":475},{"x":130,"y":405,"y2":455},{"x":150,"y":397,"y2":440},{"x":175,"y":420,"y2":420}]},"mark":{"type":"area","orient":"vertical","color":"#b068b0","interpolate":"monotone"},"encoding":{"y2":{"field":"y2"}}},
{"data":{"values":[{"x":380,"y":445,"y2":445},{"x":420,"y":405,"y2":430},{"x":470,"y":365,"y2":415},{"x":495,"y":370,"y2":438},{"x":520,"y":420,"y2":470},{"x":560,"y":490,"y2":493},{"x":598,"y":507,"y2":507}]},"mark":{"type":"area","orient":"vertical","color":"#b060a8","interpolate":"monotone"},"encoding":{"y2":{"field":"y2"}}},
{"data":{"values":[{"x":150,"y":397,"y2":440},{"x":190,"y":385,"y2":405},{"x":240,"y":352,"y2":358},{"x":290,"y":295,"y2":385},{"x":330,"y":282,"y2":415},{"x":370,"y":300,"y2":442},{"x":420,"y":350,"y2":428},{"x":470,"y":365,"y2":365}]},"mark":{"type":"area","orient":"vertical","color":"#4a22ac","interpolate":"monotone"},"encoding":{"y2":{"field":"y2"}}},
{"data":{"values":[{"x":175,"y":420,"y2":420},{"x":200,"y":395,"y2":480},{"x":240,"y":355,"y2":535},{"x":255,"y":368,"y2":548},{"x":290,"y":385,"y2":530},{"x":340,"y":418,"y2":480},{"x":380,"y":445,"y2":445}]},"mark":{"type":"area","orient":"vertical","color":"#b47ad2","interpolate":"monotone"},"encoding":{"y2":{"field":"y2"}}},
{"data":{"values":[{"x":55,"y":208,"x2":395,"y2":187}]},"mark":{"type":"rule","color":"#111","strokeWidth":1},"encoding":{"x2":{"field":"x2"},"y2":{"field":"y2"}}},
{"data":{"values":[{"x":55,"y":208,"x2":257,"y2":248}]},"mark":{"type":"rule","color":"#555","strokeWidth":1},"encoding":{"x2":{"field":"x2"},"y2":{"field":"y2"}}},
{"data":{"values":[{"x":690,"y":207,"y2":207},{"x":760,"y":195,"y2":240},{"x":810,"y":175,"y2":245},{"x":880,"y":178,"y2":252},{"x":970,"y":186,"y2":280},{"x":1010,"y":192,"y2":280},{"x":1060,"y":180,"y2":270},{"x":1140,"y":200,"y2":255},{"x":1230,"y":225,"y2":225}]},"mark":{"type":"area","orient":"vertical","color":"#1faa1f","interpolate":"monotone"},"encoding":{"y2":{"field":"y2"}}},
{"data":{"values":[{"x":690,"y":207,"y2":207},{"x":760,"y":230,"y2":240},{"x":890,"y":250,"y2":256},{"x":1010,"y":255,"y2":281},{"x":1140,"y":240,"y2":255},{"x":1230,"y":225,"y2":225}]},"mark":{"type":"area","orient":"vertical","color":"#2c8f30","interpolate":"monotone"},"encoding":{"y2":{"field":"y2"}}},
{"data":{"values":[{"x":690,"y":82,"y2":82},{"x":740,"y":90,"y2":100},{"x":790,"y":97,"y2":115},{"x":880,"y":97,"y2":128},{"x":940,"y":82,"y2":135},{"x":1010,"y":70,"y2":135},{"x":1060,"y":80,"y2":130},{"x":1120,"y":107,"y2":113},{"x":1235,"y":90,"y2":90}]},"mark":{"type":"area","orient":"vertical","color":"#38a838","interpolate":"monotone"},"encoding":{"y2":{"field":"y2"}}},
{"data":{"values":[{"x":810,"y":112,"y2":115},{"x":900,"y":110,"y2":137},{"x":1010,"y":105,"y2":135},{"x":1120,"y":110,"y2":114}]},"mark":{"type":"area","orient":"vertical","color":"#1d7f1f","interpolate":"monotone"},"encoding":{"y2":{"field":"y2"}}},
{"data":{"values":[{"x":690,"y":112,"y2":116},{"x":720,"y":120,"y2":130},{"x":760,"y":127,"y2":145},{"x":810,"y":132,"y2":150},{"x":840,"y":137,"y2":140}]},"mark":{"type":"area","orient":"vertical","color":"#7aa3a0","interpolate":"monotone"},"encoding":{"y2":{"field":"y2"}}},
{"data":{"values":[{"x":1000,"y":138,"y2":140},{"x":1060,"y":133,"y2":150},{"x":1130,"y":122,"y2":140},{"x":1235,"y":120,"y2":127}]},"mark":{"type":"area","orient":"vertical","color":"#3c6c68","interpolate":"monotone"},"encoding":{"y2":{"field":"y2"}}},
{"data":{"values":[{"x":690,"y":185,"y2":185},{"x":740,"y":165,"y2":175},{"x":800,"y":145,"y2":185},{"x":910,"y":138,"y2":223},{"x":1000,"y":140,"y2":205},{"x":1060,"y":150,"y2":175},{"x":1120,"y":172,"y2":182},{"x":1180,"y":185,"y2":193},{"x":1222,"y":197,"y2":197}]},"mark":{"type":"area","orient":"vertical","color":"#4a8028","interpolate":"monotone"},"encoding":{"y2":{"field":"y2"}}},
{"data":{"values":[{"id":"o1","x":690,"y":110},{"id":"o1","x":790,"y":120},{"id":"o1","x":860,"y":130},{"id":"o1","x":960,"y":140},{"id":"o2","x":1060,"y":130},{"id":"o2","x":1130,"y":120},{"id":"o2","x":1235,"y":117}]},"mark":{"type":"line","color":"#6b6320","strokeWidth":2,"interpolate":"monotone"},"encoding":{"detail":{"field":"id"}}},
{"data":{"values":[{"x":695,"y":323,"y2":323},{"x":780,"y":327,"y2":355},{"x":860,"y":326,"y2":370},{"x":910,"y":325,"y2":388},{"x":960,"y":315,"y2":407},{"x":1015,"y":295,"y2":392},{"x":1070,"y":315,"y2":375},{"x":1090,"y":325,"y2":370},{"x":1230,"y":340,"y2":340}]},"mark":{"type":"area","orient":"vertical","color":"#6b85b5","interpolate":"monotone"},"encoding":{"y2":{"field":"y2"}}},
{"data":{"values":[{"x":860,"y":370,"y2":370},{"x":960,"y":360,"y2":407},{"x":1010,"y":343,"y2":392},{"x":1070,"y":375,"y2":375}]},"mark":{"type":"area","orient":"vertical","color":"#3d5a78"},"encoding":{"y2":{"field":"y2"}}},
{"data":{"values":[{"x":695,"y":465,"y2":467},{"x":790,"y":440,"y2":482},{"x":885,"y":425,"y2":530},{"x":1000,"y":430,"y2":500},{"x":1050,"y":438,"y2":482},{"x":1120,"y":435,"y2":482},{"x":1230,"y":490,"y2":490}]},"mark":{"type":"area","orient":"vertical","color":"#76a88a","interpolate":"monotone"},"encoding":{"y2":{"field":"y2"}}},
{"data":{"values":[{"x":695,"y":465,"y2":467},{"x":760,"y":455,"y2":467},{"x":830,"y":432,"y2":445}]},"mark":{"type":"area","orient":"vertical","color":"#4a6a4a","interpolate":"monotone"},"encoding":{"y2":{"field":"y2"}}},
{"data":{"values":[{"x":695,"y":370,"y2":370},{"x":750,"y":378,"y2":400},{"x":790,"y":382,"y2":430},{"x":880,"y":400,"y2":423},{"x":960,"y":407,"y2":407}]},"mark":{"type":"area","orient":"vertical","color":"#a8a860","interpolate":"monotone"},"encoding":{"y2":{"field":"y2"}}},
{"data":{"values":[{"x":960,"y":407,"y2":407},{"x":1050,"y":385,"y2":435},{"x":1090,"y":375,"y2":440},{"x":1130,"y":400,"y2":435},{"x":1230,"y":390,"y2":390}]},"mark":{"type":"area","orient":"vertical","color":"#a8a860","interpolate":"monotone"},"encoding":{"y2":{"field":"y2"}}},
{"data":{"values":[{"id":"b1","x":695,"y":370},{"id":"b1","x":790,"y":377},{"id":"b1","x":890,"y":400},{"id":"b1","x":960,"y":410},{"id":"b1","x":1060,"y":440},{"id":"b1","x":1090,"y":445},{"id":"b2","x":790,"y":432},{"id":"b2","x":890,"y":420},{"id":"b2","x":960,"y":407},{"id":"b2","x":1090,"y":403},{"id":"b2","x":1230,"y":390}]},"mark":{"type":"line","color":"#a34c10","strokeWidth":1.3,"interpolate":"monotone"},"encoding":{"detail":{"field":"id"}}},
{"data":{"values":[{"x":690,"y":208,"x2":1025,"y2":187},{"x":690,"y":208,"x2":890,"y2":248}]},"mark":{"type":"rule","color":"#111","strokeWidth":1},"encoding":{"x2":{"field":"x2"},"y2":{"field":"y2"}}}
]}
]}
